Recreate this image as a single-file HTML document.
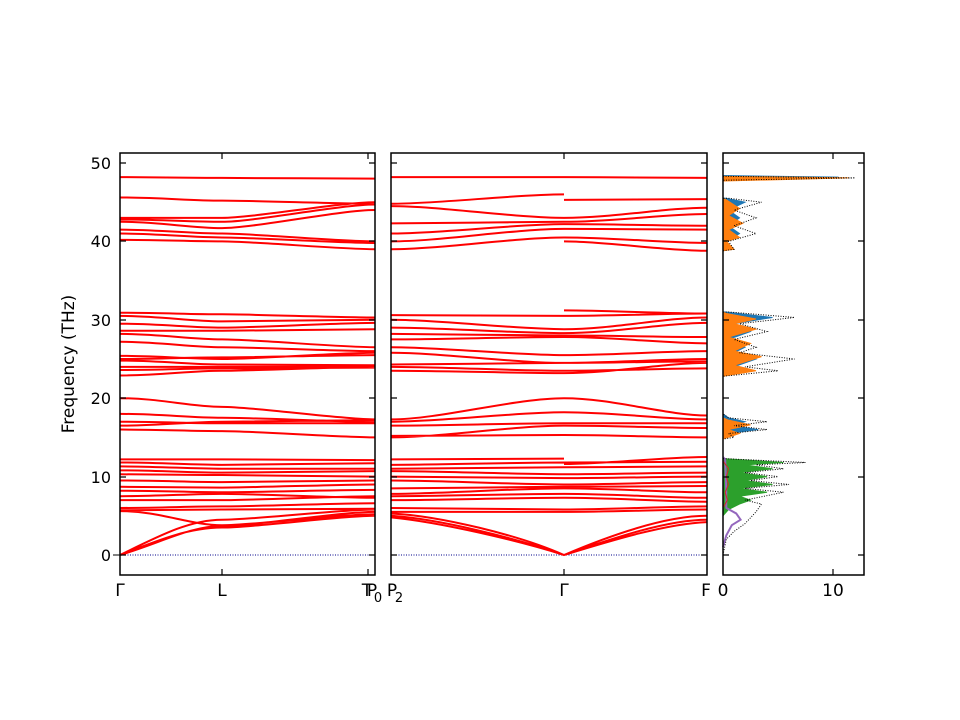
<!DOCTYPE html>
<html><head><meta charset="utf-8"><style>
body{margin:0;background:#fff;}
svg{display:block;font-family:"DejaVu Sans","Liberation Sans",sans-serif;}
</style></head><body>
<svg width="960" height="720" viewBox="0 0 960 720" xmlns="http://www.w3.org/2000/svg">
<rect width="960" height="720" fill="#fff"/>
<line x1="120" y1="555" x2="375" y2="555" stroke="#00008b" stroke-width="1" stroke-dasharray="1,1.5"/>
<line x1="391" y1="555" x2="707" y2="555" stroke="#00008b" stroke-width="1" stroke-dasharray="1,1.5"/>
<g transform="translate(0,555) scale(1,-7.84)" fill="none" stroke="#f00" stroke-width="2">
<path vector-effect="non-scaling-stroke" d="
M120 48.2 C160 48.2 190 48.1 222 48.1 S340 48 375 48
M120 45.6 C160 45.6 190 45.2 222 45.2 S340 44.8 375 44.8
M120 43 C160 43 190 43 222 43 S340 45 375 45
M120 42.8 C160 42.8 190 42.5 222 42.5 S340 44.7 375 44.7
M120 42.5 C160 42.5 190 41.7 222 41.7 S340 44 375 44
M120 41.5 C160 41.5 190 41 222 41 S340 40 375 40
M120 41 C160 41 190 40.5 222 40.5 S340 39.8 375 39.8
M120 40.2 C160 40.2 190 40 222 40 S340 39 375 39
M120 30.9 C160 30.9 190 30.7 222 30.7 S340 30.3 375 30.3
M120 30.5 C160 30.5 190 29.8 222 29.8 S340 30 375 30
M120 29.5 C160 29.5 190 29 222 29 S340 29.6 375 29.6
M120 28.6 C160 28.6 190 28.6 222 28.6 S340 28.8 375 28.8
M120 28.2 C160 28.2 190 27.5 222 27.5 S340 26.5 375 26.5
M120 27.2 C160 27.2 190 26.5 222 26.5 S340 26 375 26
M120 25.4 C160 25.4 190 25 222 25 S340 25.8 375 25.8
M120 25 C160 25 190 25.2 222 25.2 S340 25.5 375 25.5
M120 24.8 C160 24.8 190 24.3 222 24.3 S340 24.2 375 24.2
M120 24 C160 24 190 24 222 24 S340 24 375 24
M120 23.6 C160 23.6 190 23.8 222 23.8 S340 23.9 375 23.9
M120 22.9 C160 22.9 190 23.5 222 23.5 S340 24 375 24
M120 20 C160 20 190 18.9 222 18.9 S340 17.3 375 17.3
M120 18 C160 18 190 17.5 222 17.5 S340 17 375 17
M120 17 C160 17 190 16.8 222 16.8 S340 16.8 375 16.8
M120 16.5 C160 16.5 190 17 222 17 S340 17.2 375 17.2
M120 16 C160 16 190 15.8 222 15.8 S340 15 375 15
M120 12.2 C160 12.2 190 12.2 222 12.2 S340 12.1 375 12.1
M120 11.8 C160 11.8 190 11.5 222 11.5 S340 11.7 375 11.7
M120 11.3 C160 11.3 190 11 222 11 S340 11 375 11
M120 10.8 C160 10.8 190 10.5 222 10.5 S340 10.7 375 10.7
M120 10.3 C160 10.3 190 10.2 222 10.2 S340 10 375 10
M120 9.5 C160 9.5 190 9.3 222 9.3 S340 9.5 375 9.5
M120 8.7 C160 8.7 190 8.6 222 8.6 S340 9 375 9
M120 8.2 C160 8.2 190 8 222 8 S340 8.3 375 8.3
M120 7.5 C160 7.5 190 7.8 222 7.8 S340 7.3 375 7.3
M120 7 C160 7 190 7 222 7 S340 7.5 375 7.5
M120 6 C160 6 190 6.2 222 6.2 S340 6.6 375 6.6
M120 5.7 C160 5.7 190 5.8 222 5.8 S340 5.9 375 5.9
M120 5.6 C160 5.6 190 3.8 222 3.8 S340 5.2 375 5.2
M120 0 C160 2 190 3.5 222 3.5 S340 5 375 5
M120 0 C160 2.5 190 4.5 222 4.5 S340 5.8 375 5.8
M120 0 C160 1.5 190 3.7 222 3.7 S340 5.5 375 5.5
M391 48.2 C440 48.2 515 48.2 564 48.2 S666 48.1 707 48.1
M391 44.8 C440 44.8 515 46 564 46
M564 45.3 C605 45.3 666 45.4 707 45.4
M391 44.5 C440 44.5 515 43 564 43 S666 44.3 707 44.3
M391 42.3 C440 42.3 515 42.5 564 42.5 S666 43.5 707 43.5
M391 41 C440 41 515 42.2 564 42.2 S666 42 707 42
M391 40 C440 40 515 41.6 564 41.6 S666 41.5 707 41.5
M391 39 C440 39 515 40.5 564 40.5 S666 39.8 707 39.8
M564 40 C605 40 666 38.8 707 38.8
M391 30.6 C440 30.6 515 30.5 564 30.5 S666 30.8 707 30.8
M564 31.2 C605 31.2 666 30.8 707 30.8
M391 30 C440 30 515 28.8 564 28.8 S666 30.3 707 30.3
M391 29 C440 29 515 28.3 564 28.3 S666 29.6 707 29.6
M391 28.2 C440 28.2 515 28 564 28 S666 27.8 707 27.8
M391 27.5 C440 27.5 515 27.8 564 27.8 S666 27 707 27
M391 26.5 C440 26.5 515 25.5 564 25.5 S666 26 707 26
M391 25.8 C440 25.8 515 24.5 564 24.5 S666 25 707 25
M391 24.3 C440 24.3 515 24.5 564 24.5 S666 24.7 707 24.7
M391 24 C440 24 515 23.5 564 23.5 S666 23.8 707 23.8
M391 23.5 C440 23.5 515 23.2 564 23.2 S666 24.5 707 24.5
M391 17.3 C440 17.3 515 20 564 20 S666 17.8 707 17.8
M391 17 C440 17 515 18.2 564 18.2 S666 17.3 707 17.3
M391 16.5 C440 16.5 515 16.8 564 16.8 S666 16.8 707 16.8
M391 15 C440 15 515 16.5 564 16.5 S666 16.2 707 16.2
M391 15.2 C440 15.2 515 15.3 564 15.3 S666 15 707 15
M391 12.2 C440 12.2 515 12.3 564 12.3
M564 11.6 C605 11.6 666 12.5 707 12.5
M391 11.5 C440 11.5 515 11.8 564 11.8 S666 11.9 707 11.9
M391 11 C440 11 515 11.2 564 11.2 S666 11.3 707 11.3
M391 10.7 C440 10.7 515 10.3 564 10.3 S666 10.5 707 10.5
M391 10 C440 10 515 9.8 564 9.8 S666 10 707 10
M391 9.5 C440 9.5 515 9 564 9 S666 9.3 707 9.3
M391 8.5 C440 8.5 515 8.7 564 8.7 S666 8.8 707 8.8
M391 7.8 C440 7.8 515 8.5 564 8.5 S666 8 707 8
M391 7.5 C440 7.5 515 7.8 564 7.8 S666 7.3 707 7.3
M391 7 C440 7 515 7.3 564 7.3 S666 6.8 707 6.8
M391 6 C440 6 515 5.8 564 5.8 S666 6.2 707 6.2
M391 5.5 C440 5.5 515 5.5 564 5.5 S666 5.8 707 5.8
M391 5.3 C440 5 520 2.5 564 0 C610 2.5 666 5 707 5
M391 5 C440 4.6 520 2 564 0 C610 2 666 4.5 707 4.5
M391 4.8 C440 4.2 520 1.8 564 0 C610 1.8 666 4 707 4.2
"/>
</g>
<g transform="translate(723,555) scale(11,-7.84)">
<polygon vector-effect="non-scaling-stroke" fill="#2ca02c" stroke="#2ca02c" stroke-width="1" points="0,5 0.5,5.8 1.5,6.5 2.5,7 1.5,7.5 4,8 1.5,8.5 4.5,9 2,9.5 4,10 1.5,10.5 4.5,11 2,11.5 5.5,11.8 0,12.3 0,15 0.5,15.5 0,16 0,5"/>
<polygon vector-effect="non-scaling-stroke" fill="#1f77b4" stroke="#1f77b4" stroke-width="1" points="0,14.8 0.5,15.5 3.2,16 0.8,16.5 2,17 0.5,17.5 0,18 0,22.8 2,23.5 1,24 3,25 1,25.8 2,26.5 0.5,27.5 2.5,28.5 1,29.5 4.5,30.3 0.3,31 0,31 0,38.8 0.8,39.2 0.3,40 1.5,41 0.5,42 1.5,43 0.5,44 2,45 0.3,45.5 0,45.5 0,47.8 10.5,48.2 0,48.4"/>
<polygon vector-effect="non-scaling-stroke" fill="#ff7f0e" stroke="#ff7f0e" stroke-width="1" points="0,14.8 1.5,15.5 0.5,16 2.5,16.6 0.5,17.2 0,17.5 0,22.8 3,23.5 1,24.2 3.5,25.3 1,26 2.5,27 0.5,27.8 3,28.8 1,29.5 3,30.1 0.3,30.8 0,31 0,38.8 1,39 0.3,40 1.5,40.5 0.5,41.5 1.8,42.3 0.5,43.3 1.5,44.2 0.3,45.3 0,45.5 0,47.7 11.5,48.1 0,48.3"/>
<polyline vector-effect="non-scaling-stroke" fill="none" stroke="#9467bd" stroke-width="2" points="0,1 0.3,2.5 0.8,3.8 1.6,4.5 1.2,5.3 0.3,6 0.3,8 0.2,12.2 0,12.5"/>
<polyline vector-effect="non-scaling-stroke" fill="none" stroke="#d62728" stroke-width="1" points="0,6 0.4,7 0.2,8 0.5,9 0.3,10 0.5,11 0,12"/>
<polyline vector-effect="non-scaling-stroke" fill="none" stroke="#000" stroke-width="1" stroke-dasharray="1,1.5" points="0,0 0.3,2 1,3 2,4 3,5.5 3.5,6.5 2,7 5.5,8 2,8.5 6,9 2.5,9.5 5,10 2,10.5 5.5,11 3,11.5 7.5,11.8 0,12.3 0,14.8 1,15 0.5,15.5 4,16 1,16.5 4,17 0.5,17.5 0,18 0,22.8 5,23.5 2,24 6.5,25 1.5,25.8 3,26.5 1,27.5 4,28.5 1.5,29.5 6.5,30.3 0.5,31 0,31 0,38.8 1,39 0.5,40 3,41 1,42 3,43 1,44 3.5,45 0.5,45.5 0,45.5 0,47.8 12,48.1 0,48.3 0,51"/>
</g>
<g fill="none" stroke="#000" stroke-width="1.5">
<rect x="120" y="153" width="255" height="422"/>
<rect x="391" y="153" width="316" height="422"/>
<rect x="723" y="153" width="141" height="422"/>
</g>
<g stroke="#000" stroke-width="1.2">
<path d="M120 555h6M120 477h6M120 398h6M120 320h6M120 241h6M120 163h6
M375 555h-6M375 477h-6M375 398h-6M375 320h-6M375 241h-6M375 163h-6
M391 555h6M391 477h6M391 398h6M391 320h6M391 241h6M391 163h6
M707 555h-6M707 477h-6M707 398h-6M707 320h-6M707 241h-6M707 163h-6
M723 555h6M723 477h6M723 398h6M723 320h6M723 241h6M723 163h6
M864 555h-6M864 477h-6M864 398h-6M864 320h-6M864 241h-6M864 163h-6
M222 575v-6M222 153v6M564 575v-6M564 153v6M368 575v-6M368 153v6
M833 575v-6M833 153v6"/>
</g>
<line x1="120" y1="555" x2="113" y2="555" stroke="#000"/>
<g font-size="16" fill="#000" text-anchor="end">
<text x="111" y="561">0</text><text x="111" y="483">10</text><text x="111" y="404">20</text>
<text x="111" y="326">30</text><text x="111" y="247">40</text><text x="111" y="169">50</text>
</g>
<text transform="translate(74,364) rotate(-90)" font-size="17" text-anchor="middle">Frequency (THz)</text>
<g font-size="17" text-anchor="middle">
<text x="120" y="596">Γ</text><text x="222" y="596">L</text><text x="367" y="596">T</text>
<text x="372" y="596">P</text><text x="378" y="602" font-size="13">0</text>
<text x="392" y="596">P</text><text x="399" y="602" font-size="13">2</text>
<text x="564" y="596">Γ</text><text x="706" y="596">F</text>
<text x="723" y="596">0</text><text x="833" y="596">10</text>
</g>
</svg>
</body></html>
